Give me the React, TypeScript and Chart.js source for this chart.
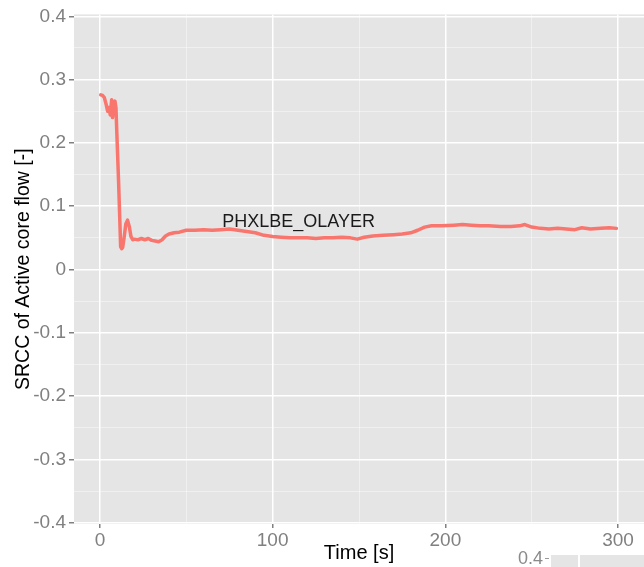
import React, { useEffect, useRef } from 'react';
import { Chart, registerables } from 'chart.js';

Chart.register(...registerables);

// ---- Data ----
const times: number[] = [
  0.5, 1.5, 2.5, 3.5, 4.5, 5.2, 6, 6.8, 7.3, 8, 8.7, 9.3, 10, 10.8, 11.5, 12, 12.6, 13.2, 14, 15,
  16, 17, 18, 19, 20, 22, 24, 26, 28, 30, 32, 34, 36, 38, 40, 43, 46, 50, 55, 60,
  65, 70, 75, 80, 85, 90, 95, 100, 105, 110, 115, 120, 125, 130, 135, 140, 145, 149, 153, 158,
  164, 170, 175, 180, 184, 188, 192, 198, 205, 210, 215, 220, 225, 232, 238, 243, 246, 250, 255, 260,
  265, 270, 275, 279, 284, 290, 295, 299,
];
const srcc: number[] = [
  0.276, 0.275, 0.272, 0.262, 0.25, 0.256, 0.244, 0.268, 0.24, 0.258, 0.266, 0.255, 0.2, 0.14, 0.08, 0.036, 0.033, 0.035, 0.05, 0.072,
  0.078, 0.068, 0.052, 0.047, 0.048, 0.047, 0.049, 0.047, 0.049, 0.046, 0.045, 0.044, 0.047, 0.053, 0.056, 0.058, 0.059, 0.062, 0.062, 0.063,
  0.062, 0.063, 0.064, 0.062, 0.06, 0.058, 0.054, 0.052, 0.051, 0.05, 0.05, 0.05, 0.049, 0.05, 0.05, 0.051, 0.05, 0.048, 0.051, 0.053,
  0.054, 0.055, 0.056, 0.058, 0.062, 0.067, 0.069, 0.069, 0.07, 0.071, 0.07, 0.069, 0.069, 0.068, 0.068, 0.069, 0.071, 0.067, 0.065, 0.064,
  0.065, 0.064, 0.063, 0.066, 0.064, 0.065, 0.066, 0.065,
];
const seriesLabel = 'PHXLBE_OLAYER';
const seriesLabelPos = { x: 115, y: 0.0745 };
const xTickValues: number[] = [0, 50, 100, 150, 200, 250, 300];
const xMajor: number[] = [0, 100, 200, 300];
const yTickValues: number[] = [-0.4, -0.35, -0.3, -0.25, -0.2, -0.15, -0.1, -0.05, 0, 0.05, 0.1, 0.15, 0.2, 0.25, 0.3, 0.35, 0.4];
const yMajor: number[] = [-0.4, -0.3, -0.2, -0.1, 0, 0.1, 0.2, 0.3, 0.4];
const xTitle = 'Time [s]';
const yTitle = 'SRCC of Active core flow [-]';
const strayLabel = '0.4';

const FONT = "'Liberation Sans', Arial, sans-serif";
const PANEL_BG = '#E5E5E5';
const TICK_GREY = '#808080';
const LINE_RED = '#F8766D';

const isMajorX = (v: number) => xMajor.some((m) => Math.abs(m - v) < 1e-6);
const isMajorY = (v: number) => yMajor.some((m) => Math.abs(m - v) < 1e-6);

const panelPlugin = {
  id: 'panelBg',
  beforeDraw(chart: any) {
    const { ctx, chartArea } = chart;
    ctx.save();
    ctx.fillStyle = PANEL_BG;
    ctx.fillRect(chartArea.left, chartArea.top, chartArea.right - chartArea.left, chartArea.bottom - chartArea.top);
    ctx.restore();
  },
  afterDatasetsDraw(chart: any) {
    const { ctx } = chart;
    const xs = chart.scales.x;
    const ys = chart.scales.y;
    ctx.save();
    ctx.fillStyle = '#1a1a1a';
    ctx.font = `18px ${FONT}`;
    ctx.textAlign = 'center';
    ctx.textBaseline = 'middle';
    ctx.fillText(seriesLabel, xs.getPixelForValue(seriesLabelPos.x), ys.getPixelForValue(seriesLabelPos.y));
    ctx.restore();
  },
};

export default function App() {
  const canvasRef = useRef<HTMLCanvasElement | null>(null);

  useEffect(() => {
    if (!canvasRef.current) return;
    const chart = new Chart(canvasRef.current, {
      type: 'line',
      data: {
        datasets: [
          {
            label: seriesLabel,
            data: times.map((t, i) => ({ x: t, y: srcc[i] })),
            borderColor: LINE_RED,
            backgroundColor: LINE_RED,
            borderWidth: 3.5,
            pointRadius: 0,
            tension: 0,
            borderJoinStyle: 'round',
            borderCapStyle: 'round',
          },
        ],
      },
      options: {
        animation: false,
        responsive: false,
        devicePixelRatio: 1,
        layout: { padding: { top: 13, right: 0, left: 0, bottom: 0 } },
        plugins: { legend: { display: false }, tooltip: { enabled: false } },
        scales: {
          x: {
            type: 'linear',
            min: -15,
            max: 315,
            afterBuildTicks: (scale: any) => {
              scale.ticks = xTickValues.map((v) => ({ value: v }));
            },
            afterFit: (scale: any) => {
              scale.height = 43;
            },
            border: { display: false },
            grid: {
              color: (ctx: any) => (ctx.tick && isMajorX(ctx.tick.value) ? '#ffffff' : 'rgba(255,255,255,0.55)'),
              lineWidth: (ctx: any) => (ctx.tick && isMajorX(ctx.tick.value) ? 1.5 : 0.8),
              tickColor: (ctx: any) => (ctx.tick && isMajorX(ctx.tick.value) ? TICK_GREY : 'rgba(0,0,0,0)'),
              tickLength: 4,
              drawTicks: true,
            },
            ticks: {
              autoSkip: false,
              maxRotation: 0,
              padding: 1,
              color: TICK_GREY,
              font: { family: FONT, size: 19 },
              callback: (v: any) => (isMajorX(Number(v)) ? String(Math.round(Number(v))) : ''),
            },
            title: {
              display: true,
              text: xTitle,
              color: '#000000',
              font: { family: FONT, size: 20 },
              padding: { top: 0, bottom: 2 },
            },
          },
          y: {
            type: 'linear',
            min: -0.402,
            max: 0.403,
            afterBuildTicks: (scale: any) => {
              scale.ticks = yTickValues.map((v) => ({ value: v }));
            },
            afterFit: (scale: any) => {
              scale.width = 74;
            },
            border: { display: false },
            grid: {
              color: (ctx: any) => (ctx.tick && isMajorY(ctx.tick.value) ? '#ffffff' : 'rgba(255,255,255,0.55)'),
              lineWidth: (ctx: any) => (ctx.tick && isMajorY(ctx.tick.value) ? 1.5 : 0.8),
              tickColor: (ctx: any) => (ctx.tick && isMajorY(ctx.tick.value) ? TICK_GREY : 'rgba(0,0,0,0)'),
              tickLength: 5,
              drawTicks: true,
            },
            ticks: {
              autoSkip: false,
              padding: 3,
              color: TICK_GREY,
              font: { family: FONT, size: 19 },
              callback: (v: any) => {
                const n = Number(v);
                if (!isMajorY(n)) return '';
                if (Math.abs(n) < 1e-9) return '0';
                return n.toFixed(1);
              },
            },
            title: {
              display: true,
              text: yTitle,
              color: '#000000',
              font: { family: FONT, size: 19.5 },
              padding: { top: 12, bottom: 0 },
            },
          },
        },
      },
      plugins: [panelPlugin],
    } as any);
    return () => chart.destroy();
  }, []);

  return (
    <div style={{ position: 'fixed', left: 0, top: 0, width: 644, height: 567, background: '#ffffff', overflow: 'hidden' }}>
      <canvas ref={canvasRef} width={644} height={567} style={{ width: 644, height: 567, display: 'block' }} />
      <span
        style={{
          position: 'absolute',
          left: 518,
          top: 549,
          fontFamily: FONT,
          fontSize: 18,
          color: '#8a8a8a',
          lineHeight: '18px',
        }}
      >
        {strayLabel}
      </span>
      <div style={{ position: 'absolute', left: 545, top: 558, width: 4, height: 1, background: '#9a9a9a' }} />
      <div style={{ position: 'absolute', left: 551, top: 555, width: 93, height: 12, background: PANEL_BG }} />
      <div style={{ position: 'absolute', left: 578, top: 555, width: 2, height: 12, background: '#ffffff' }} />
    </div>
  );
}
